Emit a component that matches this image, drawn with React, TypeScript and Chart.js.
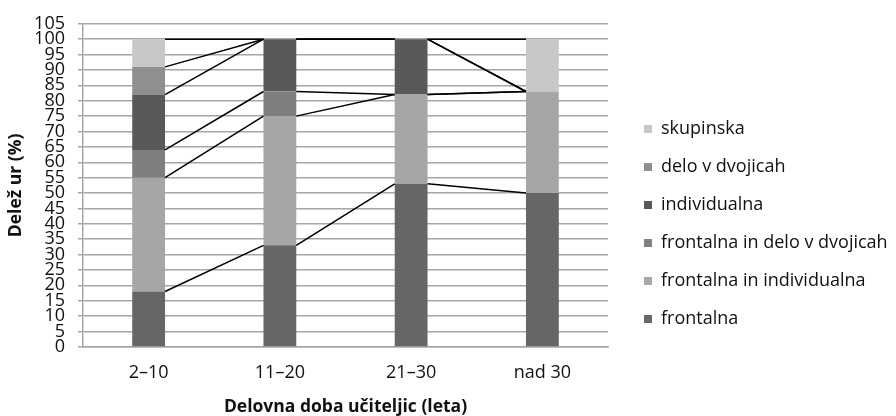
import React, { useEffect, useRef } from "react";
import { Chart, registerables } from "chart.js";

Chart.register(...registerables);

const categories = ["2–10", "11–20", "21–30", "nad 30"];
const frontalna = [18, 33, 53, 50];
const frontalnaInIndividualna = [37, 42, 29, 33];
const frontalnaInDvojice = [9, 8, 0, 0];
const individualna = [18, 17, 18, 0];
const deloVDvojicah = [9, 0, 0, 0];
const skupinska = [9, 0, 0, 17];
const yTicksMax = 105;
const yStep = 5;

const FONT = "'Open Sans', sans-serif";
const TXT = "#111111";

const seriesLinesPlugin = {
  id: "seriesLines",
  afterDatasetsDraw(chart: any) {
    const ctx = chart.ctx;
    ctx.save();
    ctx.strokeStyle = "#000000";
    ctx.lineWidth = 1.5;
    chart.data.datasets.forEach((_: any, di: number) => {
      const els = chart.getDatasetMeta(di).data;
      for (let j = 0; j < els.length - 1; j++) {
        const a = els[j];
        const b = els[j + 1];
        ctx.beginPath();
        ctx.moveTo(a.x + a.width / 2, a.y);
        ctx.lineTo(b.x - b.width / 2, b.y);
        ctx.stroke();
      }
    });
    ctx.restore();
  },
};

export default function App() {
  const ref = useRef<HTMLCanvasElement | null>(null);
  useEffect(() => {
    let chart: any = null;
    let cancelled = false;
    const build = () => {
      if (cancelled || !ref.current) return;
      const mk = (label: string, data: number[], color: string) => ({
        label,
        data,
        backgroundColor: color,
        borderWidth: 0,
        barPercentage: 1,
        categoryPercentage: 0.25,
        yAxisID: "y",
      });
      chart = new Chart(ref.current, {
        type: "bar",
        data: {
          labels: categories,
          datasets: [
            mk("frontalna", frontalna, "#666666"),
            mk("frontalna in individualna", frontalnaInIndividualna, "#a6a6a6"),
            mk("frontalna in delo v dvojicah", frontalnaInDvojice, "#7f7f7f"),
            mk("individualna", individualna, "#595959"),
            mk("delo v dvojicah", deloVDvojicah, "#8f8f8f"),
            mk("skupinska", skupinska, "#c8c8c8"),
          ],
        },
        options: {
          animation: false,
          responsive: true,
          maintainAspectRatio: false,
          layout: { padding: { left: 0, right: 2, top: 8, bottom: 0 } },
          plugins: {
            tooltip: { enabled: false },
            legend: {
              position: "right",
              reverse: true,
              maxWidth: 270,
              title: { display: true, text: " ", padding: 0, font: { size: 20, lineHeight: 1.2 } },
              labels: {
                boxWidth: 8,
                boxHeight: 8,
                padding: 20,
                color: TXT,
                font: { family: FONT, size: 18 },
              },
            },
          },
          scales: {
            x: {
              stacked: true,
              grid: { display: false, drawTicks: false },
              border: { color: "#a6a6a6", width: 1.5 },
              ticks: { color: TXT, font: { family: FONT, size: 18 }, padding: 15 },
              title: {
                display: true,
                text: "Delovna doba učiteljic (leta)",
                color: TXT,
                font: { family: FONT, size: 17.5, weight: "bold", lineHeight: 1 },
                padding: { top: 0, bottom: 0 },
              },
            },
            y: {
              stacked: true,
              min: 0,
              max: yTicksMax,
              grid: { color: "#a6a6a6", lineWidth: 1.5, tickLength: 5 },
              border: { color: "#a6a6a6", width: 1.5 },
              ticks: {
                stepSize: yStep,
                autoSkip: false,
                color: TXT,
                font: { family: FONT, size: 18 },
                padding: 13,
              },
              title: {
                display: true,
                text: "Delež ur (%)",
                color: TXT,
                font: { family: FONT, size: 17.5, weight: "bold" },
                padding: { top: 6, bottom: 0 },
              },
              afterFit: (s: any) => {
                s.width = 83;
              },
            },
            gap: {
              type: "linear",
              position: "right",
              display: true,
              grid: { display: false, drawTicks: false },
              border: { display: false },
              ticks: { display: false },
              afterFit: (s: any) => {
                s.width = 16;
              },
            },
          },
        },
        plugins: [seriesLinesPlugin],
      });
    };
    const fontsApi: any = (document as any).fonts;
    if (fontsApi && fontsApi.load) {
      Promise.all([
        fontsApi.load("18px 'Open Sans'"),
        fontsApi.load("bold 17.5px 'Open Sans'"),
      ])
        .catch(() => null)
        .then(build);
    } else {
      build();
    }
    return () => {
      cancelled = true;
      if (chart) chart.destroy();
    };
  }, []);
  return (
    <div style={{ position: "fixed", left: 0, top: 0, width: 896, height: 416, background: "#fff" }}>
      <canvas ref={ref} />
    </div>
  );
}
